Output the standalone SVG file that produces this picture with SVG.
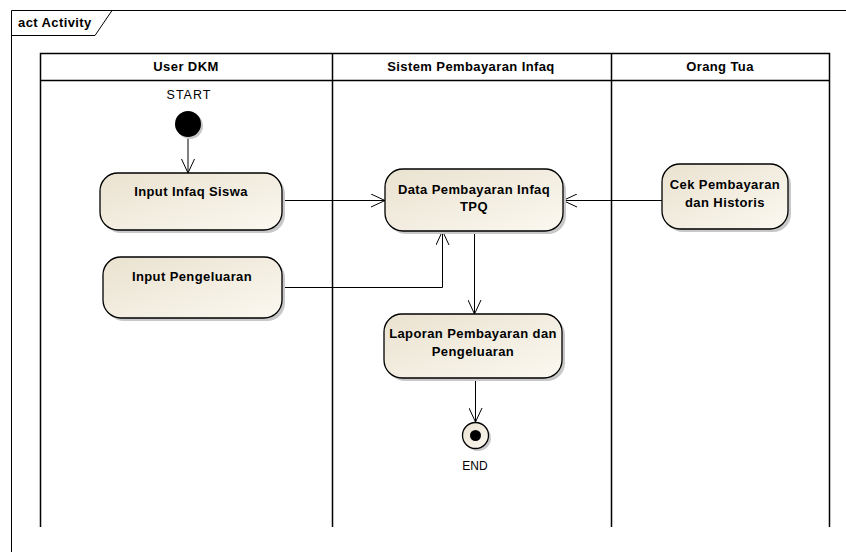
<svg xmlns="http://www.w3.org/2000/svg" width="846" height="552" viewBox="0 0 846 552">
<defs>
<linearGradient id="g" x1="0" y1="0" x2="1" y2="1">
<stop offset="0" stop-color="#eae2d0"/>
<stop offset="1" stop-color="#fbf8f0"/>
</linearGradient>
<marker id="arr" markerWidth="16" markerHeight="14" refX="14" refY="7" orient="auto" markerUnits="userSpaceOnUse">
<path d="M0,0.5 L14,7 L0,13.5" fill="none" stroke="#000" stroke-width="1"/>
</marker>
</defs>
<style>
text{font-family:"Liberation Sans",Arial,sans-serif;font-size:12px;fill:#000}
.b{font-weight:bold;font-size:13px;letter-spacing:0.4px}
.frame{fill:none;stroke:#000;stroke-width:1}
.lane{fill:none;stroke:#000;stroke-width:1.5}
.node{fill:url(#g);stroke:#000;stroke-width:1.3}
.shadow{fill:#c8c8c8}
.conn{fill:none;stroke:#000;stroke-width:1}
</style>
<rect width="846" height="552" fill="#fff"/>
<g id="frame">
<path class="frame" d="M11.5,552 L11.5,10.5 L846,10.5"/>
<path class="frame" d="M11.5,35.5 L95,35.5 L112,10.5"/>
<text class="b" x="18" y="27">act Activity</text>
</g>
<g id="lanes">
<path class="lane" d="M40.5,527 L40.5,53.5 L829.5,53.5 L829.5,527"/>
<line class="lane" x1="40.5" y1="80.5" x2="829.5" y2="80.5"/>
<line class="lane" x1="332.5" y1="53.5" x2="332.5" y2="527"/>
<line class="lane" x1="611.5" y1="53.5" x2="611.5" y2="527"/>
<text class="b" x="186" y="71" text-anchor="middle">User DKM</text>
<text class="b" x="471" y="71" text-anchor="middle">Sistem Pembayaran Infaq</text>
<text class="b" x="720" y="71" text-anchor="middle">Orang Tua</text>
</g>
<g id="connectors">
<line class="conn" x1="188" y1="137" x2="188" y2="173" marker-end="url(#arr)"/>
<line class="conn" x1="282" y1="200.5" x2="385" y2="200.5" marker-end="url(#arr)"/>
<path class="conn" d="M282,287.5 L442.5,287.5 L442.5,231" marker-end="url(#arr)"/>
<line class="conn" x1="662" y1="200.5" x2="563" y2="200.5" marker-end="url(#arr)"/>
<line class="conn" x1="474.5" y1="231" x2="474.5" y2="314" marker-end="url(#arr)"/>
<line class="conn" x1="475.5" y1="378" x2="475.5" y2="422" marker-end="url(#arr)"/>
</g>
<g id="start">
<text x="189" y="99" text-anchor="middle" style="font-size:12.5px;letter-spacing:1px">START</text>
<circle cx="190" cy="126" r="13" fill="#c8c8c8"/>
<circle cx="188" cy="124" r="13" fill="#000"/>
</g>
<g id="input-infaq">
<rect class="shadow" x="103" y="176" width="182" height="57" rx="18"/>
<rect class="node" x="100" y="173" width="182" height="57" rx="18"/>
<text class="b" x="191" y="196" text-anchor="middle">Input Infaq Siswa</text>
</g>
<g id="input-pengeluaran">
<rect class="shadow" x="106" y="260" width="179" height="61" rx="18"/>
<rect class="node" x="103" y="257" width="179" height="61" rx="18"/>
<text class="b" x="192" y="281" text-anchor="middle">Input Pengeluaran</text>
</g>
<g id="data-pembayaran">
<rect class="shadow" x="388" y="172" width="178" height="62" rx="18"/>
<rect class="node" x="385" y="169" width="178" height="62" rx="18"/>
<text class="b" x="474" y="194" text-anchor="middle">Data Pembayaran Infaq</text>
<text class="b" x="474" y="211" text-anchor="middle">TPQ</text>
</g>
<g id="laporan">
<rect class="shadow" x="387" y="317" width="178" height="64" rx="18"/>
<rect class="node" x="384" y="314" width="178" height="64" rx="18"/>
<text class="b" x="473" y="338" text-anchor="middle">Laporan Pembayaran dan</text>
<text class="b" x="473" y="356" text-anchor="middle">Pengeluaran</text>
</g>
<g id="cek-pembayaran">
<rect class="shadow" x="665" y="167" width="126" height="65" rx="18"/>
<rect class="node" x="662" y="164" width="126" height="65" rx="18"/>
<text class="b" x="725" y="189" text-anchor="middle">Cek Pembayaran</text>
<text class="b" x="725" y="207" text-anchor="middle">dan Historis</text>
</g>
<g id="end">
<circle cx="478" cy="438" r="13" fill="#c8c8c8"/>
<circle cx="475.5" cy="435.5" r="13" fill="url(#g)" stroke="#000" stroke-width="1.3"/>
<circle cx="475.5" cy="435.5" r="5.5" fill="#000"/>
<text x="475" y="470" text-anchor="middle">END</text>
</g>
</svg>
